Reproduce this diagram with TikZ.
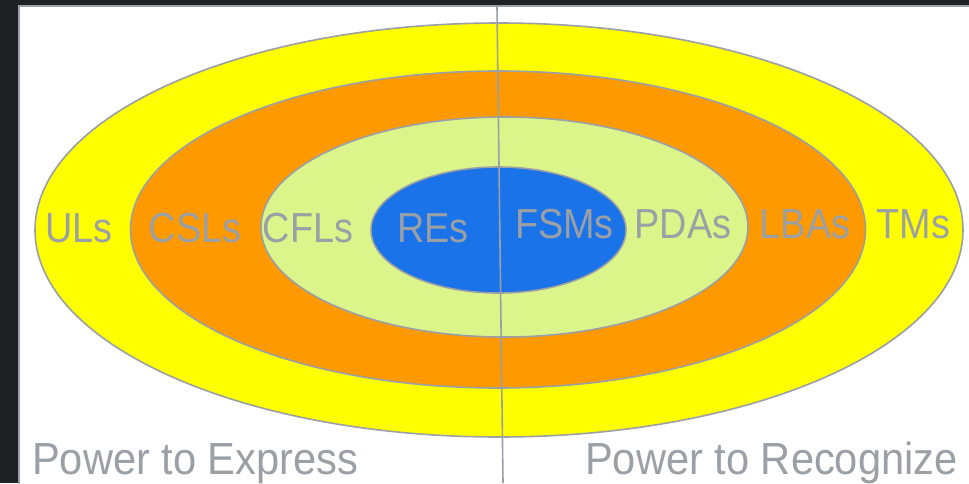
\documentclass[tikz,border=0pt]{standalone}
\usepackage{fontspec}
\setmainfont{Liberation Sans}[FakeStretch=0.9]
\newfontfamily\widefont{Liberation Sans}[FakeStretch=0.925]
\definecolor{bg}{HTML}{202124}
\definecolor{edge}{HTML}{9AA0A6}
\definecolor{yel}{HTML}{FFFF00}
\definecolor{org}{HTML}{FF9900}
\definecolor{lgr}{HTML}{DCF58B}
\definecolor{blu}{HTML}{1A73E8}
\begin{document}
\begin{tikzpicture}[x=1pt,y=-1pt,
 ring/.style={draw=edge,line width=1.6pt},
 lbl/.style={text=edge,font=\fontsize{42}{42}\selectfont,inner sep=0pt,anchor=base},
 bottomtext/.style={text=edge,font=\widefont\fontsize{45}{45}\selectfont,inner sep=0pt,anchor=base west}]
\useasboundingbox (0,0) rectangle (969,483);
\fill[bg] (0,0) rectangle (969,483);
\draw[edge,line width=2pt,fill=white] (19,6) rectangle (980,495);
\draw[ring,fill=yel] (499,230) ellipse [x radius=464, y radius=207];
\draw[ring,fill=org] (498,229.5) ellipse [x radius=367.5, y radius=158.5];
\draw[ring,fill=lgr] (504.5,227) ellipse [x radius=243.5, y radius=110];
\draw[ring,fill=blu] (498.5,230) ellipse [x radius=127.5, y radius=63];
\node[lbl] (uls) at (79,242) {ULs};
\node[lbl] (csls) at (195,242) {CSLs};
\node[lbl] (cfls) at (308,242) {CFLs};
\node[lbl] (res) at (433,242) {REs};
\node[lbl] (fsms) at (564.5,238) {FSMs};
\node[lbl] (pdas) at (683,238) {PDAs};
\node[lbl] (lbas) at (805,238) {LBAs};
\node[lbl] (tms) at (913.5,238) {TMs};
\node[bottomtext] (expr) at (32,474) {Power to Express};
\node[bottomtext] (recog) at (585,474) {Power to Recognize};
\coordinate (divtop) at (497,7);
\coordinate (divbot) at (503,483);
\draw[edge,line width=1.6pt] (divtop) -- (divbot);
\end{tikzpicture}
\end{document}
